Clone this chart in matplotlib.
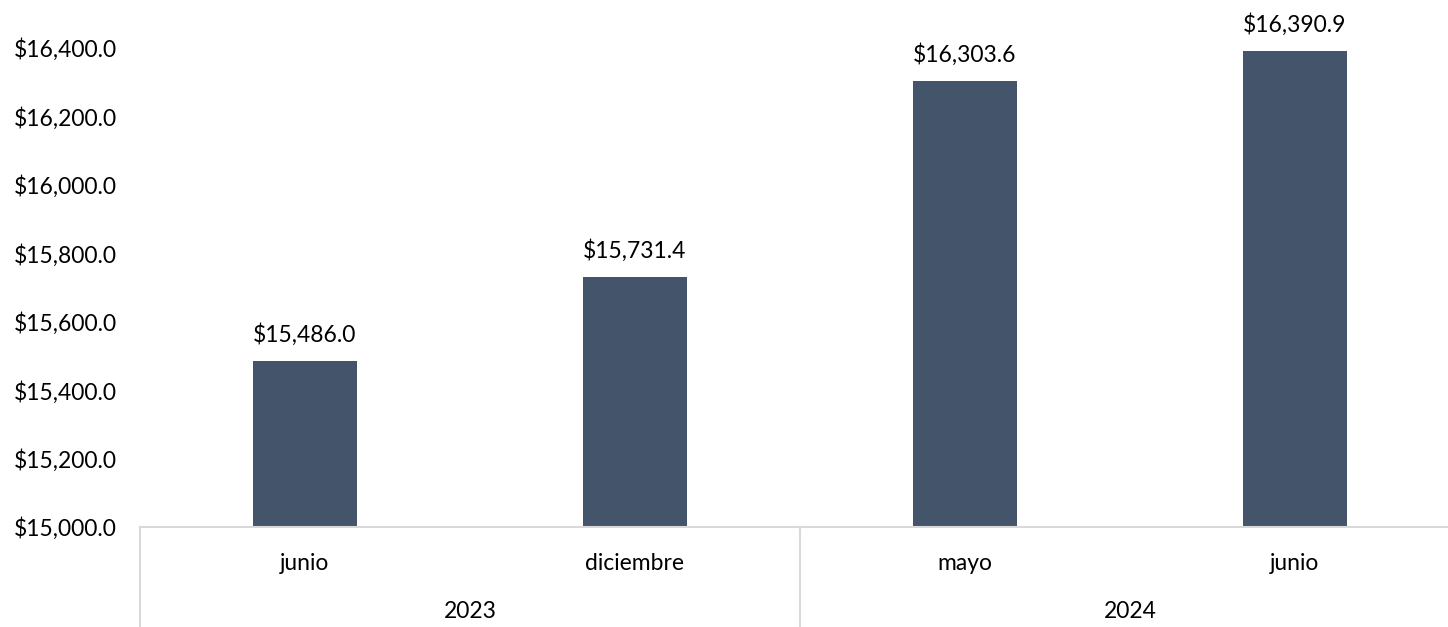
import matplotlib
matplotlib.use("Agg")
import matplotlib.pyplot as plt
from matplotlib.ticker import FuncFormatter

months = ["junio", "diciembre", "mayo", "junio"]
years = ["2023", "2024"]
year_groups = [[0, 1], [2, 3]]
values = [15486.0, 15731.4, 16303.6, 16390.9]
yticks = [15000, 15200, 15400, 15600, 15800, 16000, 16200, 16400]

plt.rcParams['font.family'] = ['Lato', 'DejaVu Sans']
FS = 16.5
W, H = 1448, 627
fig = plt.figure(figsize=(W / 100, H / 100), dpi=100)
ax_left, ax_bottom_px, ax_right = 140, 527, 1460
ax = fig.add_axes([ax_left / W, (H - ax_bottom_px) / H, (ax_right - ax_left) / W, ax_bottom_px / H])

bar_color = "#44546A"
grid_color = "#D9D9D9"
x = list(range(len(values)))
ax.bar(x, values, width=0.315, color=bar_color, zorder=2)

ymin = 15000
px_per_unit = (527 - 48) / 1400
ymax = 16400 + 48 / px_per_unit
ax.set_ylim(ymin, ymax)
ax.set_xlim(-0.5, len(values) - 0.5)

ax.set_yticks(yticks)
ax.yaxis.set_major_formatter(FuncFormatter(lambda v, p: f"${v:,.1f}"))
ax.tick_params(axis='y', length=0, labelsize=FS, pad=16.5, colors="#000000")
ax.set_xticks([])

for s in ["top", "right", "left"]:
    ax.spines[s].set_visible(False)
ax.spines["bottom"].set_color(grid_color)
ax.spines["bottom"].set_linewidth(1.5)

for xi, v in zip(x, values):
    ax.annotate(f"${v:,.1f}", (xi, v), xytext=(0, 11), textcoords="offset points",
                ha="center", va="bottom", fontsize=FS, annotation_clip=False)

trans = ax.get_xaxis_transform()
axh = ax_bottom_px
for xi, m in zip(x, months):
    ax.text(xi, -(563 - 527) / axh, m, transform=trans, ha="center", va="center", fontsize=FS)

for yr, grp in zip(years, year_groups):
    cx = (grp[0] + grp[-1]) / 2
    ax.text(cx, -(611 - 527) / axh, yr, transform=trans, ha="center", va="center", fontsize=FS)

for sep in [-0.5, 1.5]:
    ax.plot([sep, sep], [0, -100 / axh], transform=trans, color=grid_color, lw=1.5, clip_on=False)

fig.savefig("out.png", dpi=100)
